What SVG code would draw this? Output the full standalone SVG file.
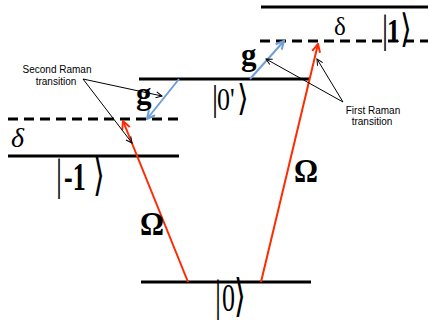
<svg xmlns="http://www.w3.org/2000/svg" width="428" height="322" viewBox="0 0 428 322">
<style>
.lvl{stroke:#000;stroke-width:3;fill:none}
.dash{stroke:#000;stroke-width:3;stroke-dasharray:10 6;fill:none}
.red{stroke:#ff2a00;stroke-width:2;fill:none;marker-end:url(#ahRed)}
.blue{stroke:#6f9fd6;stroke-width:2;fill:none;marker-end:url(#ahBlue)}
.thin{stroke:#000;stroke-width:1;fill:none;marker-end:url(#ahBlack)}
.note{font-family:"Liberation Sans","DejaVu Sans",sans-serif;font-size:10px;text-anchor:middle;fill:#000}
.sym{font-family:"Liberation Serif","DejaVu Serif",serif;fill:#000}
.bar{font-family:"Liberation Serif",serif;font-size:30px}
.ang{font-family:"DejaVu Sans",sans-serif;font-size:30px}
.b{font-weight:bold}
</style>
<defs>
<marker id="ahRed" markerUnits="userSpaceOnUse" markerWidth="10" markerHeight="10" refX="9" refY="5" orient="auto"><path d="M1,1 L9,5 L1,9" fill="none" stroke="#ff2a00" stroke-width="2"/></marker>
<marker id="ahBlue" markerUnits="userSpaceOnUse" markerWidth="10" markerHeight="10" refX="9" refY="5" orient="auto"><path d="M1,1 L9,5 L1,9" fill="none" stroke="#6f9fd6" stroke-width="2"/></marker>
<marker id="ahBlack" markerUnits="userSpaceOnUse" markerWidth="8" markerHeight="8" refX="7" refY="4" orient="auto"><path d="M1,1 L7,4 L1,7" fill="none" stroke="#000" stroke-width="1"/></marker>
</defs>
<rect width="428" height="322" fill="#fff"/>

<g id="level-0">
<line class="lvl" x1="141" y1="282" x2="311" y2="282"/>
<text class="sym" transform="translate(0,311) scale(1,1.5)"><tspan class="bar" x="215" y="0">|</tspan><tspan x="222" y="0" font-size="26">0</tspan><tspan class="ang" x="234" y="0">⟩</tspan></text>
</g>

<g id="level-minus1">
<line class="dash" x1="8" y1="119" x2="180" y2="119"/>
<line class="lvl" x1="8" y1="156" x2="179" y2="156"/>
<text class="sym" x="11" y="147" font-size="28" font-style="italic">δ</text>
<text class="sym" transform="translate(0,190) scale(1,1.5)"><tspan class="bar" x="56" y="0">|</tspan><tspan class="b" x="64" y="0" font-size="26">-1</tspan><tspan class="ang" x="93" y="0">⟩</tspan></text>
</g>

<g id="level-0prime">
<line class="lvl" x1="139" y1="79" x2="310" y2="79"/>
<text class="sym" transform="translate(0,110) scale(1,1.2)"><tspan class="bar" x="212" y="0">|</tspan><tspan x="217" y="0" font-size="26">0'</tspan></text>
<text class="sym" transform="translate(0,110) scale(1,1.2)"><tspan class="ang" x="237" y="0">⟩</tspan></text>
</g>

<g id="level-1">
<line class="lvl" x1="261" y1="7" x2="428" y2="7"/>
<line class="dash" x1="260" y1="41" x2="428" y2="41"/>
<text class="sym" x="334" y="35" font-size="25">δ</text>
<text class="sym" transform="translate(0,42) scale(1,1.3)"><tspan class="bar" x="382" y="0">|</tspan><tspan class="b" x="387" y="0" font-size="26">1</tspan><tspan class="ang" x="400" y="0">⟩</tspan></text>
</g>

<g id="connectors">
<line class="red" x1="188" y1="282" x2="123" y2="121"/>
<line class="red" x1="261" y1="282" x2="318" y2="44"/>
<line class="blue" x1="179" y1="79" x2="147" y2="119"/>
<line class="blue" x1="250" y1="79" x2="284" y2="41"/>
<line class="thin" x1="83" y1="79" x2="162" y2="96"/>
<line class="thin" x1="83" y1="79" x2="132" y2="143"/>
<line class="thin" x1="343" y1="102" x2="266" y2="59"/>
<line class="thin" x1="343" y1="102" x2="317" y2="59"/>
</g>

<g id="labels">
<text class="sym b" x="136" y="104" font-size="31">g</text>
<text class="sym b" x="241" y="65" font-size="31">g</text>
<text class="sym b" transform="translate(140,235) scale(1,1.15)" font-size="30">Ω</text>
<text class="sym b" transform="translate(294,182) scale(1,1.15)" font-size="30">Ω</text>
<text class="note" x="57" y="73">Second Raman</text>
<text class="note" x="56" y="85">transition</text>
<text class="note" x="373" y="114">First Raman</text>
<text class="note" x="372" y="125">transition</text>
</g>
</svg>
